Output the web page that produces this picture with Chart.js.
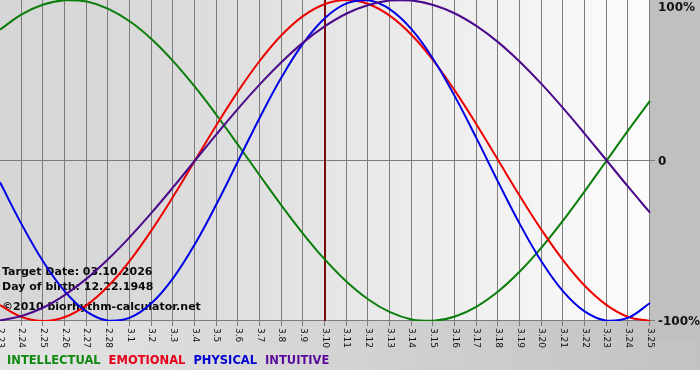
<!DOCTYPE html>
<html>
<head>
<meta charset="utf-8">
<script src="https://cdn.jsdelivr.net/npm/chart.js@4.4.1/dist/chart.umd.min.js"></script>
<style>
  html, body { margin: 0; padding: 0; background: #ffffff; }
  #wrap { width: 700px; height: 380px; position: relative; }
</style>
</head>
<body>
<div id="wrap"><canvas id="c" width="700" height="380"></canvas></div>
<script>
const labels = ['2.23','2.24','2.25','2.26','2.27','2.28','3.1','3.2','3.3','3.4','3.5','3.6','3.7','3.8','3.9','3.10','3.11','3.12','3.13','3.14','3.15','3.16','3.17','3.18','3.19','3.20','3.21','3.22','3.23','3.24','3.25'];
const intellectual = [81.5,91.0,97.2,99.9,99.0,94.5,86.6,75.6,61.8,45.8,28.2,9.5,-9.5,-28.2,-45.8,-61.8,-75.6,-86.6,-94.5,-99.0,-99.9,-97.2,-91.0,-81.5,-69.0,-54.1,-37.2,-18.9,0,18.9,37.2];
const emotional = [-90.1,-97.5,-100,-97.5,-90.1,-78.2,-62.3,-43.4,-22.3,0,22.3,43.4,62.3,78.2,90.1,97.5,100,97.5,90.1,78.2,62.3,43.4,22.3,0,-22.3,-43.4,-62.3,-78.2,-90.1,-97.5,-100];
const physical = [-13.6,-39.8,-63.1,-81.7,-94.2,-99.8,-97.9,-88.8,-73.1,-52.0,-27.0,0,27.0,52.0,73.1,88.8,97.9,99.8,94.2,81.7,63.1,39.8,13.6,-13.6,-39.8,-63.1,-81.7,-94.2,-99.8,-97.9,-88.8];
const intuitive = [-99.7,-96.9,-91.6,-83.7,-73.6,-61.4,-47.6,-32.5,-16.5,0,16.5,32.5,47.6,61.4,73.6,83.7,91.6,96.9,99.7,99.7,96.9,91.6,83.7,73.6,61.4,47.6,32.5,16.5,0,-16.5,-32.5];
const yTickLabels = [{v:100, t:'100%'}, {v:0, t:'0'}, {v:-100, t:'-100%'}];
const targetLabel = '3.10';
const infoLines = ['Target Date: 03.10.2026', 'Day of birth: 12.22.1948', '\u00A92010 biorhythm-calculator.net'];
const legendItems = [
  {t:'INTELLECTUAL', c:'#108a10'},
  {t:'EMOTIONAL', c:'#e8001a'},
  {t:'PHYSICAL', c:'#0000d0'},
  {t:'INTUITIVE', c:'#5a0a9a'}
];

const bgPlugin = {
  id: 'bioBg',
  beforeDraw(chart) {
    const ctx = chart.ctx;
    const a = chart.chartArea;
    const W = chart.width, H = chart.height;
    ctx.save();
    ctx.fillStyle = '#ffffff';
    ctx.fillRect(0, 0, W, H);
    // bottom band
    let g2 = ctx.createLinearGradient(0, 0, W, 0);
    g2.addColorStop(0, '#e4e4e4');
    g2.addColorStop(1, '#c2c2c2');
    ctx.fillStyle = g2;
    ctx.fillRect(0, a.bottom, W, 370 - a.bottom);
    // right panel
    ctx.fillStyle = '#c0c0c0';
    ctx.fillRect(a.right, 0, W - a.right, a.bottom + 20);
    // plot area gradient
    let g = ctx.createLinearGradient(a.left, 0, a.right, 0);
    g.addColorStop(0, '#d6d6d6');
    g.addColorStop(0.25, '#dadada');
    g.addColorStop(1, '#fcfcfc');
    ctx.fillStyle = g;
    ctx.fillRect(a.left, a.top, a.right - a.left, a.bottom - a.top);

    const xs = chart.scales.x, ys = chart.scales.y;
    // vertical grid lines + ticks
    ctx.strokeStyle = '#7c7c7c';
    ctx.lineWidth = 1;
    ctx.beginPath();
    for (let i = 0; i < labels.length; i++) {
      const x = Math.round(xs.getPixelForValue(i)) - 0.5;
      ctx.moveTo(x, a.top);
      ctx.lineTo(x, a.bottom + 5);
    }
    // horizontal lines
    [0, -100].forEach(v => {
      const y = Math.round(ys.getPixelForValue(v)) - 0.5;
      ctx.moveTo(a.left, y);
      ctx.lineTo(a.right + 5, y);
    });
    ctx.stroke();

    // target date line
    const tx = xs.getPixelForValue(labels.indexOf(targetLabel));
    ctx.strokeStyle = '#7a0a0a';
    ctx.lineWidth = 2;
    ctx.beginPath();
    ctx.moveTo(Math.round(tx), a.top);
    ctx.lineTo(Math.round(tx), a.bottom);
    ctx.stroke();

    // rotated tick labels
    ctx.fillStyle = '#111111';
    ctx.font = '9px "DejaVu Sans"';
    ctx.textAlign = 'left';
    ctx.textBaseline = 'middle';
    for (let i = 0; i < labels.length; i++) {
      const x = xs.getPixelForValue(i);
      ctx.save();
      ctx.translate(x, a.bottom + 7);
      ctx.rotate(Math.PI / 2);
      ctx.fillText(labels[i], 0, 0);
      ctx.restore();
    }

    // right labels
    ctx.font = 'bold 12px "DejaVu Sans"';
    ctx.fillStyle = '#111111';
    yTickLabels.forEach(o => {
      let y = ys.getPixelForValue(o.v);
      if (o.v === 100) y += 7;
      ctx.fillText(o.t, a.right + 8, y + 1);
    });

    // info text
    ctx.font = 'bold 11px "DejaVu Sans"';
    ctx.fillStyle = '#0a0a0a';
    const iy = [272, 287, 307];
    infoLines.forEach((t, k) => ctx.fillText(t, 2, iy[k]));

    // legend
    ctx.font = 'bold 11.5px "DejaVu Sans"';
    let lx = 7;
    legendItems.forEach(it => {
      ctx.fillStyle = it.c;
      ctx.fillText(it.t, lx, 361);
      lx += ctx.measureText(it.t).width + 8;
    });
    ctx.restore();
  }
};

new Chart(document.getElementById('c'), {
  type: 'line',
  data: {
    labels: labels,
    datasets: [
      {label:'INTUITIVE', data: intuitive, borderColor:'#4b0a8a', order: 1},
      {label:'PHYSICAL', data: physical, borderColor:'#0000e6', order: 2},
      {label:'EMOTIONAL', data: emotional, borderColor:'#ee0000', order: 3},
      {label:'INTELLECTUAL', data: intellectual, borderColor:'#0a7d0a', order: 4}
    ].map(d => Object.assign(d, {borderWidth: 2, pointRadius: 0, tension: 0.4, fill: false}))
  },
  options: {
    responsive: false,
    animation: false,
    events: [],
    layout: { padding: { left: 0, right: 50, top: 0, bottom: 59 } },
    plugins: { legend: { display: false }, tooltip: { enabled: false } },
    scales: {
      x: { display: false },
      y: { display: false, min: -100, max: 100 }
    }
  },
  plugins: [bgPlugin]
});
</script>
</body>
</html>
